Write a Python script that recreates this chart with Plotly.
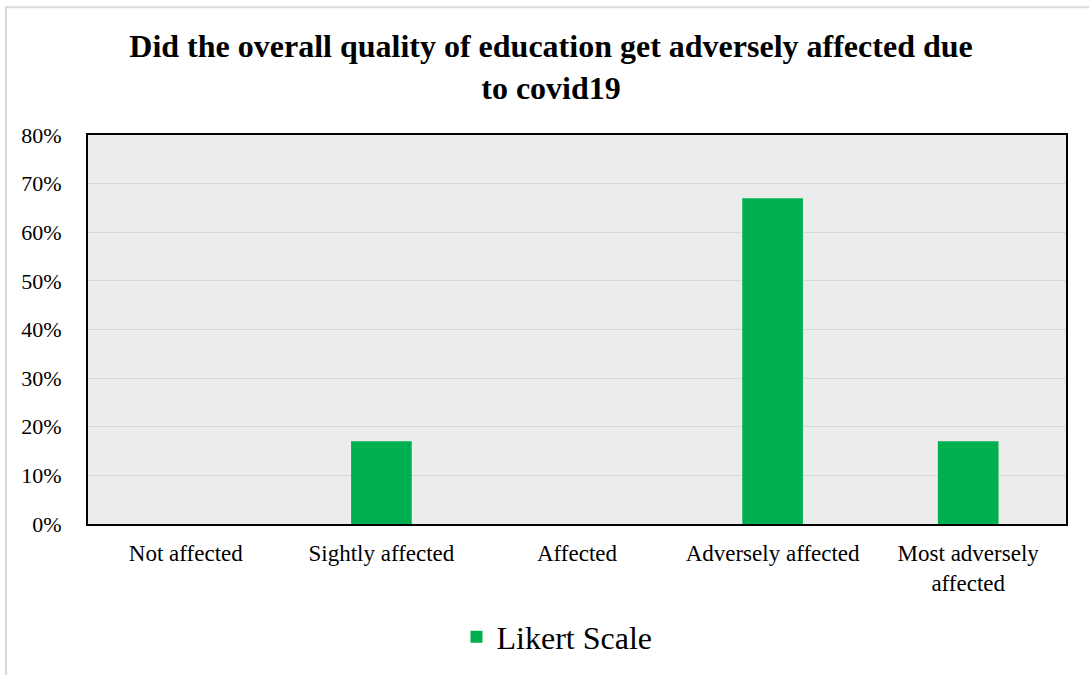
import plotly.graph_objects as go

categories = ["Not affected", "Sightly affected", "Affected", "Adversely affected", "Most adversely<br>affected"]
values = [0.0, 0.17, 0.0, 0.67, 0.17]
series_name = "Likert Scale"
y_ticks = [0, 0.1, 0.2, 0.3, 0.4, 0.5, 0.6, 0.7, 0.8]

W, H = 1089, 675
L, R, T, B = 88, 23, 135, 150
pw, ph = W - L - R, H - T - B

def px_x(x):
    return (x - L) / pw

def px_y(y):
    return (H - B - y) / ph

fig = go.Figure()
fig.add_trace(go.Bar(
    x=categories, y=values, name=series_name,
    marker=dict(color="#00B050", line=dict(width=0)),
    showlegend=True,
))

font_family = "Liberation Serif"

fig.update_layout(
    width=W, height=H,
    margin=dict(l=L, r=R, t=T, b=B, pad=0),
    paper_bgcolor="white",
    plot_bgcolor="#ececec",
    bargap=0.69,
    font=dict(family=font_family, color="black"),
    title=dict(
        text="<b>Did the overall quality of education get adversely affected due<br>to covid19</b>",
        x=px_x(551), xanchor="center", xref="paper",
        y=1 - 57 / H, yanchor="middle",
        font=dict(family=font_family, size=32, color="black", weight="bold"),
    ),
    showlegend=True,
    legend=dict(
        orientation="h", x=px_x(557), xanchor="center",
        y=px_y(637), yanchor="middle",
        font=dict(family=font_family, size=32, color="black"),
        bgcolor="rgba(0,0,0,0)",
        itemsizing="constant",
    ),
    xaxis=dict(
        showline=True, linecolor="black", linewidth=2, mirror=True,
        showgrid=False, ticks="", ticklabelstandoff=7,
        tickfont=dict(family=font_family, size=23, color="black"),
    ),
    yaxis=dict(
        range=[0, 0.8], tickvals=y_ticks, tickformat=".0%",
        showline=True, linecolor="black", linewidth=2, mirror=True,
        showgrid=True, gridcolor="#d8d8d8", gridwidth=1,
        zeroline=False, ticks="", ticklen=0, ticklabelstandoff=20,
        tickfont=dict(family=font_family, size=22, color="black"),
    ),
    shapes=[dict(
        type="rect", xref="paper", yref="paper",
        x0=px_x(6), x1=px_x(1100), y0=px_y(690), y1=px_y(7),
        line=dict(color="#d9d9d9", width=2), fillcolor="rgba(0,0,0,0)",
        layer="below",
    )],
)

fig.write_html("out.html", config={"displayModeBar": False},
               post_script="document.body.style.margin='0';")
